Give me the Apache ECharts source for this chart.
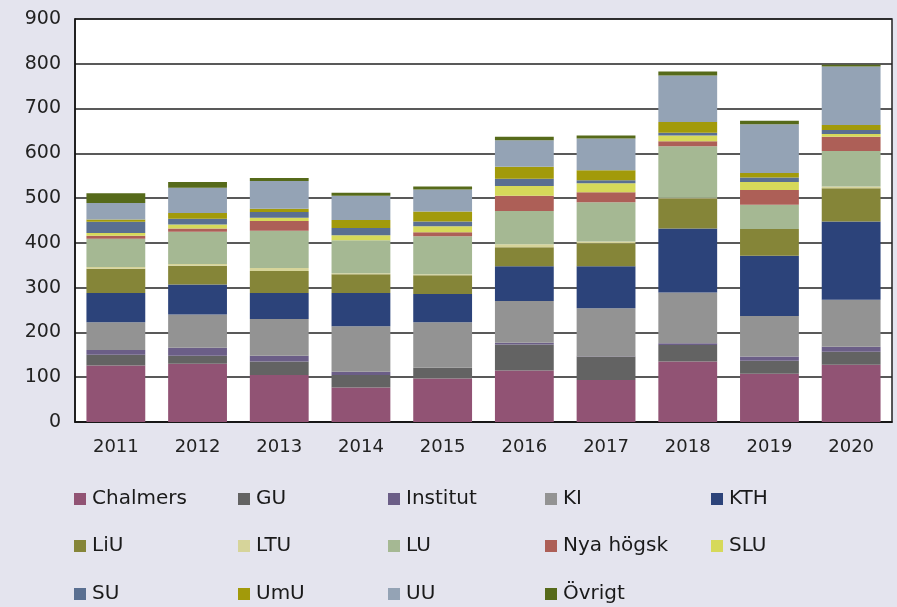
<!DOCTYPE html>
<html>
<head>
<meta charset="utf-8">
<script src="https://cdn.jsdelivr.net/npm/echarts@6/dist/echarts.min.js"></script>
<style>
html,body{margin:0;padding:0;background:#E4E4EE;}
#chart{width:897px;height:607px;}
</style>
</head>
<body>
<div id="chart"></div>
<script>
const years = ['2011','2012','2013','2014','2015','2016','2017','2018','2019','2020'];
const yTicks = [0,100,200,300,400,500,600,700,800,900];

const chalmers = [126, 130, 105, 77, 97, 115, 94, 135, 108, 128];
const gu       = [24, 18, 30, 28, 24, 58, 52, 37, 29, 29];
const institut = [11, 18, 13, 7, 0, 4, 1, 4, 9, 11];
const ki       = [62, 74, 82, 102, 102, 93, 107, 113, 91, 105];
const kth      = [65, 67, 58, 74, 63, 78, 94, 143, 134, 175];
const liu      = [54, 42, 49, 42, 42, 42, 51, 67, 60, 74];
const ltu      = [4, 4, 7, 2, 2, 7, 4, 2, 0, 4];
const lu       = [63, 72, 83, 74, 85, 74, 88, 115, 54, 79];
const nya      = [7, 7, 22, 0, 9, 34, 22, 11, 33, 32];
const slu      = [6, 9, 7, 11, 13, 22, 20, 13, 18, 6];
const su       = [25, 13, 13, 16, 11, 16, 7, 6, 10, 9];
const umu      = [5, 13, 7, 18, 22, 27, 22, 24, 10, 11];
const uu       = [37, 56, 62, 54, 49, 59, 71, 104, 109, 131];
const ovrigt   = [22, 13, 7, 7, 7, 8, 7, 9, 8, 4];

const seriesNames = ['Chalmers','GU','Institut','KI','KTH','LiU','LTU','LU','Nya högsk','SLU','SU','UmU','UU','Övrigt'];
const seriesData = [chalmers, gu, institut, ki, kth, liu, ltu, lu, nya, slu, su, umu, uu, ovrigt];
const colors = ['#915374','#636363','#6B5E87','#939393','#2C437A','#858538','#D6D49A','#A5B893','#AD5F57','#D6D95A','#5A6F91','#A29A0A','#94A3B5','#566A1A'];

// legend layout: 5 columns x 3 rows
const legendLeft = [74, 238, 388, 545, 711];
const legendTop = [489, 536, 584];

const chart = echarts.init(document.getElementById('chart'), null, {renderer:'canvas'});
const labelFont = 'DejaVu Sans, sans-serif';

chart.setOption({
  backgroundColor: '#E4E4EE',
  color: colors,
  animation: false,
  grid: {
    left: 75, right: 5, top: 19, bottom: 185,
    show: true, backgroundColor: '#ffffff', borderColor: '#222', borderWidth: 1.5
  },
  legend: seriesNames.map((n, i) => ({
    data: [n],
    left: legendLeft[i % 5],
    top: legendTop[Math.floor(i / 5)],
    padding: 0,
    itemWidth: 12, itemHeight: 12,
    icon: 'rect',
    selectedMode: false,
    textStyle: { fontFamily: labelFont, fontSize: 20, color: '#1a1a1a', lineHeight: 20, padding: [0,0,0,1] }
  })),
  xAxis: {
    type: 'category',
    data: years,
    axisLine: { show: true, lineStyle: { color: '#111', width: 1.5 } },
    axisTick: { show: false },
    axisLabel: { fontFamily: labelFont, fontSize: 18, color: '#222', margin: 16 }
  },
  yAxis: {
    type: 'value',
    min: yTicks[0], max: yTicks[yTicks.length-1], interval: 100,
    axisLine: { show: true, lineStyle: { color: '#111', width: 1.5 } },
    axisTick: { show: false },
    splitLine: { show: true, lineStyle: { color: '#222', width: 1.5 } },
    axisLabel: { fontFamily: labelFont, fontSize: 19, color: '#222', margin: 14 }
  },
  series: seriesNames.map((n, i) => ({
    name: n,
    type: 'bar',
    stack: 'total',
    barWidth: '72%',
    data: seriesData[i],
    itemStyle: { color: colors[i] }
  }))
});
</script>
</body>
</html>
